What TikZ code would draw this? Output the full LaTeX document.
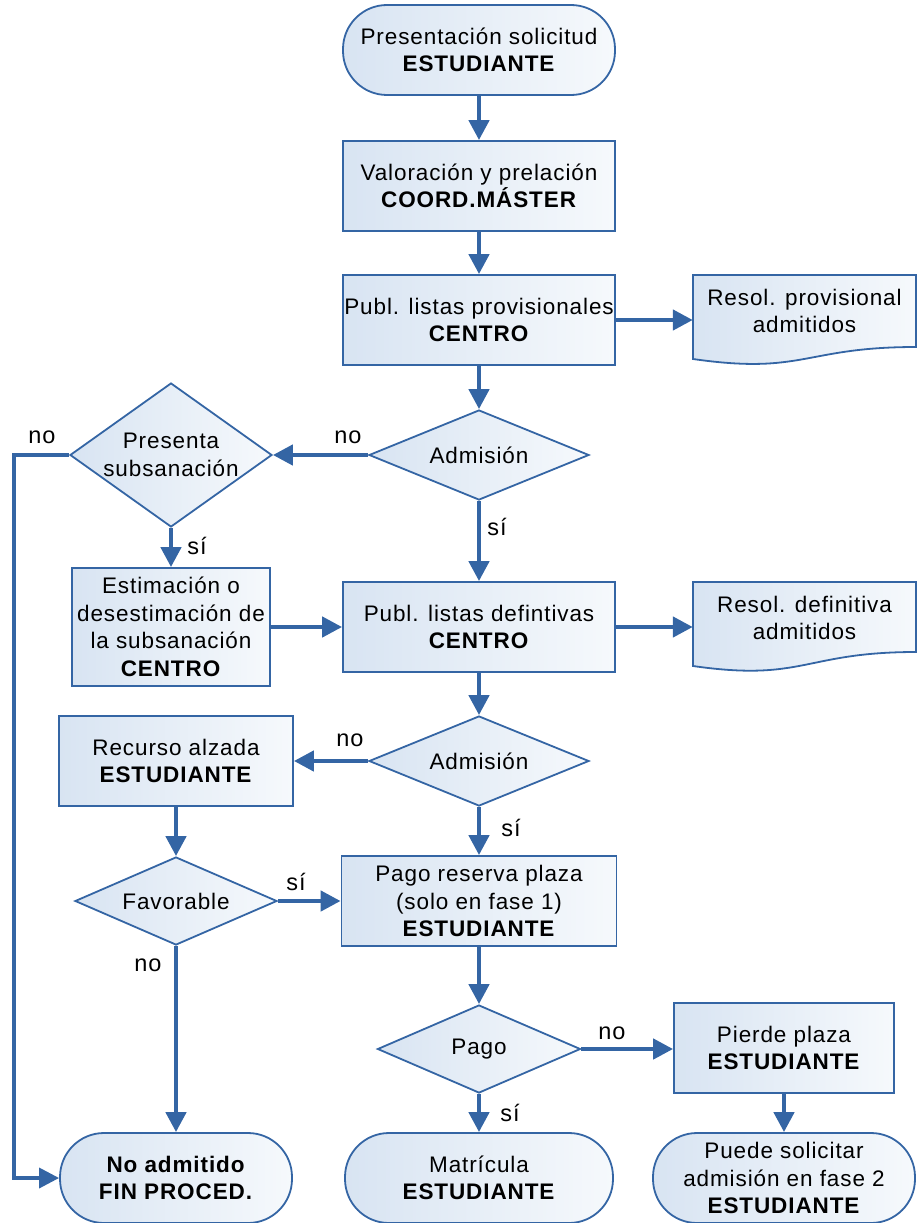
\documentclass[tikz,border=0pt]{standalone}
\usepackage{fontspec}
\setmainfont{Liberation Sans}[LetterSpace=4]
\usetikzlibrary{shapes.geometric,arrows.meta}
\definecolor{flowline}{RGB}{52,101,164}
\definecolor{flowfill}{RGB}{216,228,242}
\definecolor{flowlight}{RGB}{246,249,252}

\begin{document}
\begin{tikzpicture}[x=1pt, y=-1pt,
    every node/.style={font=\fontsize{22.5}{27.5}\selectfont, align=center, inner sep=0pt},
    box/.style={draw=flowline, line width=1.8pt, left color=flowfill, right color=flowlight,
      minimum width=272pt, minimum height=90pt},
    term/.style={box, rounded corners=44pt},
    dec/.style={box, diamond, shape aspect=2.4, minimum width=220pt, minimum height=90pt},
    docshape/.style={draw=flowline, line width=1.8pt, left color=flowfill, right color=flowlight},
    arr/.style={draw=flowline, line width=4.5pt, -{Triangle[length=20pt,width=20pt]}},
    lbl/.style={font=\fontsize{23.5}{27}\selectfont}]
  \useasboundingbox (0,0) rectangle (918,1223);

  % main column
  \node[term] (inicio) at (479,50) {Presentación solicitud\\\textbf{ESTUDIANTE}};
  \node[box] (valor) at (479,186) {Valoración y prelación\\\textbf{COORD.MÁSTER}};
  \node[box] (publprov) at (479,320) {Publ. listas provisionales\\\textbf{CENTRO}};
  \node[dec] (adm1) at (479,455) {Admisión};
  \node[box] (publdef) at (479,627) {Publ. listas defintivas\\\textbf{CENTRO}};
  \node[dec] (adm2) at (479,761) {Admisión};
  \node[box, minimum width=275pt] (reserva) at (479,901) {Pago reserva plaza\\(solo en fase 1)\\\textbf{ESTUDIANTE}};
  \node[dec, shape aspect=2.3, minimum width=203pt, minimum height=88pt] (pago) at (479,1049) {Pago};
  \node[term, minimum width=268pt] (matricula) at (479,1178) {Matrícula\\\textbf{ESTUDIANTE}};

  % documents
  \draw[docshape] (693,275) -- (916,275) -- (916,347) .. controls (804,347) and (804,375) .. (693,359) -- cycle;
  \node[minimum width=223pt, minimum height=72pt] (resprov) at (804.5,311) {Resol. provisional\\admitidos};
  \draw[docshape] (693,582) -- (916,582) -- (916,652) .. controls (804,652) and (804,682) .. (693,666) -- cycle;
  \node[minimum width=223pt, minimum height=72pt] (resdef) at (804.5,618) {Resol. definitiva\\admitidos};

  % left column
  \node[dec, shape aspect=1.4, minimum width=202pt, minimum height=144pt] (subsana) at (171,455) {Presenta\\subsanación};
  \node[box, minimum width=198pt, minimum height=118pt] (estima) at (171,627) {Estimación o\\desestimación de\\la subsanación\\\textbf{CENTRO}};
  \node[box, minimum width=234pt] (recurso) at (176,761) {Recurso alzada\\\textbf{ESTUDIANTE}};
  \node[dec, shape aspect=2.3, minimum width=202pt, minimum height=88pt] (favor) at (176,901) {Favorable};
  \node[term, minimum width=232pt] (fin) at (176,1178) {\textbf{No admitido}\\\textbf{FIN PROCED.}};

  % right column
  \node[box, minimum width=220pt] (pierde) at (784,1048) {Pierde plaza\\\textbf{ESTUDIANTE}};
  \node[term, minimum width=262pt] (fase2) at (784,1178) {Puede solicitar\\admisión en fase 2\\\textbf{ESTUDIANTE}};

  % connectors
  \draw[arr] (inicio) -- (valor);
  \draw[arr] (valor) -- (publprov);
  \draw[arr] (publprov.east) -- (publprov.east -| resprov.west);
  \draw[arr] (publprov) -- (adm1);
  \draw[arr] (adm1.west) -- (subsana.east);
  \draw[arr] (adm1.south) -- (publdef.north);
  \draw[arr] (subsana.south) -- (estima.north);
  \coordinate (lft) at (14,455);
  \draw[arr, line width=3.5pt] (subsana.west) -- (lft) |- (fin.west);
  \draw[arr] (estima.east) -- (estima.east -| publdef.west);
  \draw[arr] (publdef.east) -- (publdef.east -| resdef.west);
  \draw[arr] (publdef) -- (adm2);
  \draw[arr] (adm2.west) -- (recurso.east);
  \draw[arr] (adm2.south) -- (reserva.north);
  \draw[arr] (recurso.south) -- (favor.north);
  \draw[arr] (favor.east) -- (reserva.west);
  \draw[arr] (favor.south) -- (fin.north);
  \draw[arr] (reserva) -- (pago);
  \draw[arr] (pago.south) -- (matricula.north);
  \draw[arr] (pago.east) -- (pago.east -| pierde.west);
  \draw[arr] (pierde) -- (fase2);

  % labels
  \node[lbl] (no1) at (42,437) {no};
  \node[lbl] (no2) at (348,437) {no};
  \node[lbl] (si1) at (497,527) {sí};
  \node[lbl] (si2) at (197,546) {sí};
  \node[lbl] (no3) at (350,740) {no};
  \node[lbl] (si3) at (511,828) {sí};
  \node[lbl] (si4) at (296,882) {sí};
  \node[lbl] (no4) at (148,965) {no};
  \node[lbl] (no5) at (612,1033) {no};
  \node[lbl] (si5) at (510,1113) {sí};
\end{tikzpicture}
\end{document}
